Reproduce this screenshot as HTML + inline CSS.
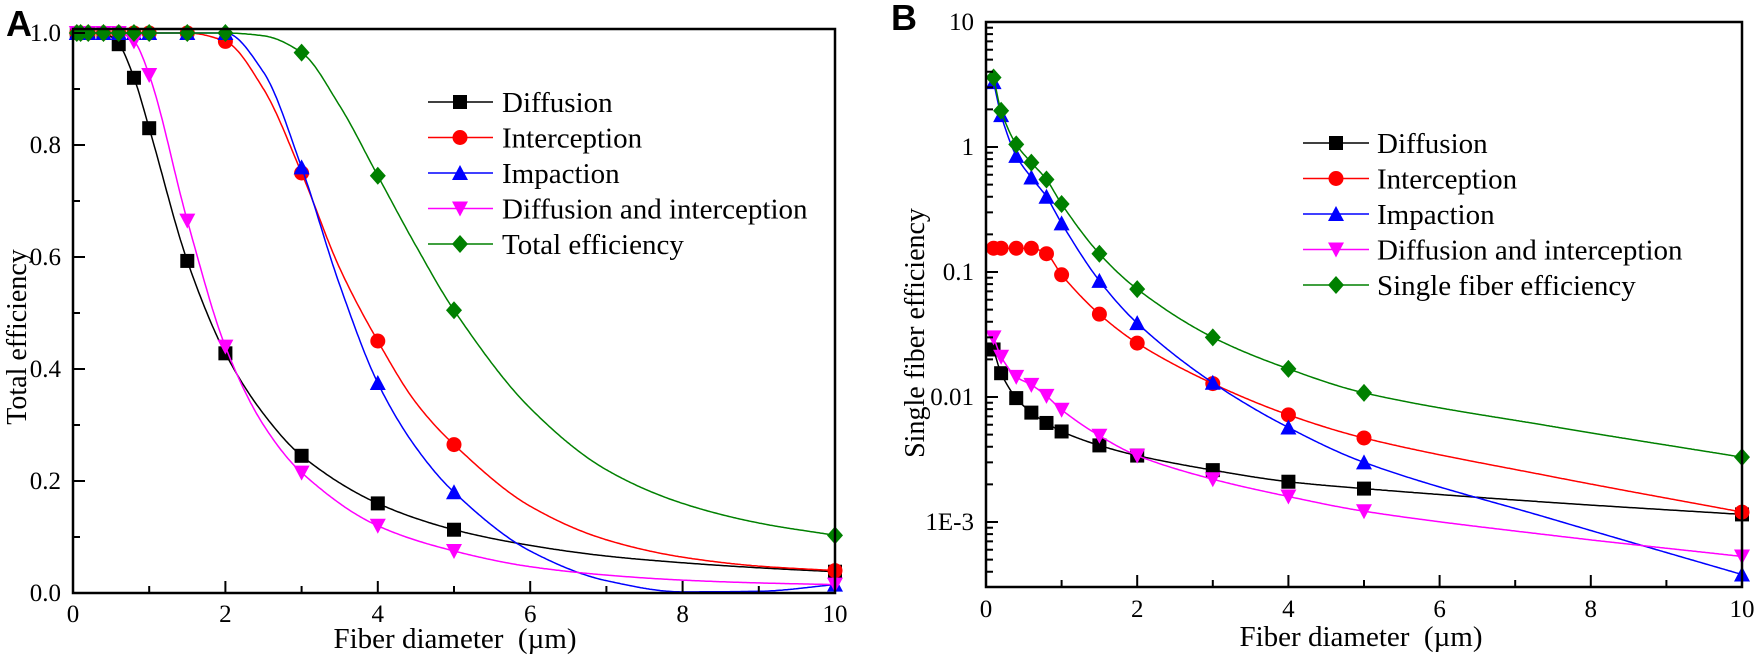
<!DOCTYPE html>
<html><head><meta charset="utf-8"><style>
html,body{margin:0;padding:0;background:#fff;}
svg{display:block;}
text{font-family:"Liberation Serif",serif;fill:#000;}
</style></head><body>
<svg id="s" width="1756" height="658" xmlns="http://www.w3.org/2000/svg"></svg>
<script>
const S=document.getElementById('s');let h='';
function mono(xs,ys){const n=xs.length,d=[],m=[];for(let i=0;i<n-1;i++)d.push((ys[i+1]-ys[i])/(xs[i+1]-xs[i]));m[0]=d[0];m[n-1]=d[n-2];
for(let i=1;i<n-1;i++){if(d[i-1]*d[i]<=0)m[i]=0;else m[i]=(2*d[i-1]*d[i])/(d[i-1]+d[i]);}
return t=>{let i=0;while(i<n-2&&t>xs[i+1])i++;const hh=xs[i+1]-xs[i],s=(t-xs[i])/hh;
const h00=2*s*s*s-3*s*s+1,h10=s*s*s-2*s*s+s,h01=-2*s*s*s+3*s*s,h11=s*s*s-s*s;return h00*ys[i]+h10*hh*m[i]+h01*ys[i+1]+h11*hh*m[i+1];};}
function marker(t,x,y,c){const r=7;
if(t=='s')return `<rect x="${x-r}" y="${y-r}" width="${2*r}" height="${2*r}" fill="${c}"/>`;
if(t=='c')return `<circle cx="${x}" cy="${y}" r="${r+0.5}" fill="${c}"/>`;
if(t=='u')return `<polygon points="${x},${y-r-1} ${x+r+1},${y+r} ${x-r-1},${y+r}" fill="${c}"/>`;
if(t=='d')return `<polygon points="${x},${y+r+1} ${x+r+1},${y-r} ${x-r-1},${y-r}" fill="${c}"/>`;
return `<polygon points="${x},${y-r-2} ${x+r+1},${y} ${x},${y+r+2} ${x-r-1},${y}" fill="${c}"/>`;}
const cols=['#000','#f00','#00f','#f0f','#008000'],mk=['s','c','u','d','D'];
function series(xs,ys,cx,cy,X,Y,c,m,log,clipy){let f=mono(cx,log?cy.map(Math.log10):cy);let p='';
for(let t=cx[0];t<=cx[cx.length-1]+1e-9;t+=0.02){let v=f(t);if(log)v=Math.pow(10,v);let yy=Y(v);if(clipy!==undefined)yy=Math.min(yy,clipy);p+=(p?'L':'M')+X(t).toFixed(1)+','+yy.toFixed(1);}
h+=`<path d="${p}" fill="none" stroke="${c}" stroke-width="1.5"/>`;
xs.forEach((x,i)=>h+=marker(m,X(x),Y(ys[i]),c));}
function merge(xs,ys,extra){let pts=xs.map((x,i)=>[x,ys[i]]).concat(extra);pts.sort((a,b)=>a[0]-b[0]);return [pts.map(p=>p[0]),pts.map(p=>p[1])];}
// Panel A
const AX=x=>73+x*76.2,AY=v=>593-560*v;
const xa=[0.05,0.1,0.2,0.4,0.6,0.8,1,1.5,2,3,4,5,10];
const A=[[1,1,1,1,0.98,0.92,0.83,0.593,0.428,0.245,0.16,0.113,0.038],
[1,1,1,1,1,1,1,1,0.985,0.75,0.45,0.265,0.04],
[1,1,1,1,1,1,1,1,1,0.76,0.375,0.18,0.015],
[1,1,1,1,1,0.985,0.925,0.665,0.44,0.215,0.12,0.075,0.015],
[1,1,1,1,1,1,1,1,1,0.965,0.745,0.505,0.103]];
const AE=[[[2.5,0.32],[6,0.085],[7,0.066],[8,0.054],[9,0.045]],
[[2.5,0.9],[3.5,0.58],[4.5,0.34],[6,0.155],[7,0.095],[8,0.064],[9,0.048]],
[[2.5,0.93],[3.5,0.55],[4.5,0.26],[6,0.075],[7,0.022],[8,0.002],[9,0.003]],
[[2.5,0.3],[6,0.047],[7,0.032],[8,0.023],[9,0.018]],
[[2.5,0.995],[3.5,0.87],[4.5,0.62],[6,0.33],[7,0.22],[8,0.16],[9,0.125]]];
A.forEach((ys,i)=>{const [cx,cy]=merge(xa,ys,AE[i]);series(xa,ys,cx,cy,AX,AY,cols[i],mk[i],false,593);});
h+=`<rect x="73" y="29" width="762" height="564" fill="none" stroke="#000" stroke-width="2.5"/>`;
for(let k=0;k<=10;k++){let y=AY(k/10);h+=`<line x1="73" x2="${k%2?80:85}" y1="${y}" y2="${y}" stroke="#000" stroke-width="2"/>`;
if(k%2==0)h+=`<text x="61" y="${y+8}" font-size="25" text-anchor="end">${(k/10).toFixed(1)}</text>`;}
for(let k=0;k<=10;k++){let x=AX(k);h+=`<line x1="${x}" x2="${x}" y1="593" y2="${k%2?586:581}" stroke="#000" stroke-width="2"/>`;
if(k%2==0)h+=`<text x="${x}" y="622" font-size="25" text-anchor="middle">${k}</text>`;}
h+=`<text x="455" y="648" font-size="29" text-anchor="middle" xml:space="preserve">Fiber diameter  (µm)</text>`;
h+=`<text transform="translate(26,337) rotate(-90)" font-size="28" text-anchor="middle">Total efficiency</text>`;
h+=`<text x="6" y="36" font-size="36" font-weight="bold" style="font-family:'Liberation Sans',sans-serif">A</text>`;
const la=['Diffusion','Interception','Impaction','Diffusion and interception','Total efficiency'];
la.forEach((t,i)=>{let y=102+i*35.5;h+=`<line x1="428" x2="493" y1="${y}" y2="${y}" stroke="${cols[i]}" stroke-width="1.5"/>`+marker(mk[i],460,y,cols[i])+`<text x="502" y="${y+10}" font-size="29">${t}</text>`;});
// Panel B
const BX=x=>986+x*75.6,BY=v=>22+(1-Math.log10(v))*125;
const xb=[0.1,0.2,0.4,0.6,0.8,1,1.5,2,3,4,5,10];
const B=[[0.024,0.0155,0.0098,0.0075,0.0062,0.0053,0.0041,0.0034,0.0026,0.0021,0.00185,0.00115],
[0.155,0.155,0.155,0.155,0.14,0.095,0.046,0.027,0.0128,0.0072,0.0047,0.0012],
[3.3,1.8,0.85,0.57,0.4,0.245,0.085,0.039,0.013,0.0057,0.003,0.00038],
[0.03,0.021,0.0145,0.0125,0.0102,0.0079,0.0049,0.0034,0.0022,0.0016,0.00122,0.00053],
[3.6,1.95,1.05,0.75,0.55,0.35,0.14,0.073,0.03,0.0168,0.0108,0.0033]];
const BE=[[[7.5,0.00143]],[[7.5,0.0023]],[[7.5,0.00105]],[[7.5,0.00078]],[[7.5,0.0058]]];
B.forEach((ys,i)=>{const [cx,cy]=merge(xb,ys,BE[i]);series(xb,ys,cx,cy,BX,BY,cols[i],mk[i],true);});
h+=`<rect x="986" y="22" width="756" height="565" fill="none" stroke="#000" stroke-width="2.5"/>`;
for(let e=-4;e<=1;e++){for(let k=1;k<10;k++){let v=k*Math.pow(10,e),y=BY(v);if(y<22||y>587)continue;
h+=`<line x1="986" x2="${k==1?998:993}" y1="${y}" y2="${y}" stroke="#000" stroke-width="2"/>`;
if(k==1){let lab={1:'10',0:'1','-1':'0.1','-2':'0.01','-3':'1E-3'}[e];if(lab)h+=`<text x="974" y="${y+8}" font-size="25" text-anchor="end">${lab}</text>`;}}}
for(let k=0;k<=10;k++){let x=BX(k);h+=`<line x1="${x}" x2="${x}" y1="587" y2="${k%2?580:575}" stroke="#000" stroke-width="2"/>`;
if(k%2==0)h+=`<text x="${x}" y="617" font-size="25" text-anchor="middle">${k}</text>`;}
h+=`<text x="1361" y="646" font-size="29" text-anchor="middle" xml:space="preserve">Fiber diameter  (µm)</text>`;
h+=`<text transform="translate(924,333) rotate(-90)" font-size="28" text-anchor="middle">Single fiber efficiency</text>`;
h+=`<text x="891" y="30" font-size="36" font-weight="bold" style="font-family:'Liberation Sans',sans-serif">B</text>`;
const lb=['Diffusion','Interception','Impaction','Diffusion and interception','Single fiber efficiency'];
lb.forEach((t,i)=>{let y=143+i*35.5;h+=`<line x1="1303" x2="1369" y1="${y}" y2="${y}" stroke="${cols[i]}" stroke-width="1.5"/>`+marker(mk[i],1336,y,cols[i])+`<text x="1377" y="${y+10}" font-size="29">${t}</text>`;});
S.innerHTML=h;
</script>
</body></html>
